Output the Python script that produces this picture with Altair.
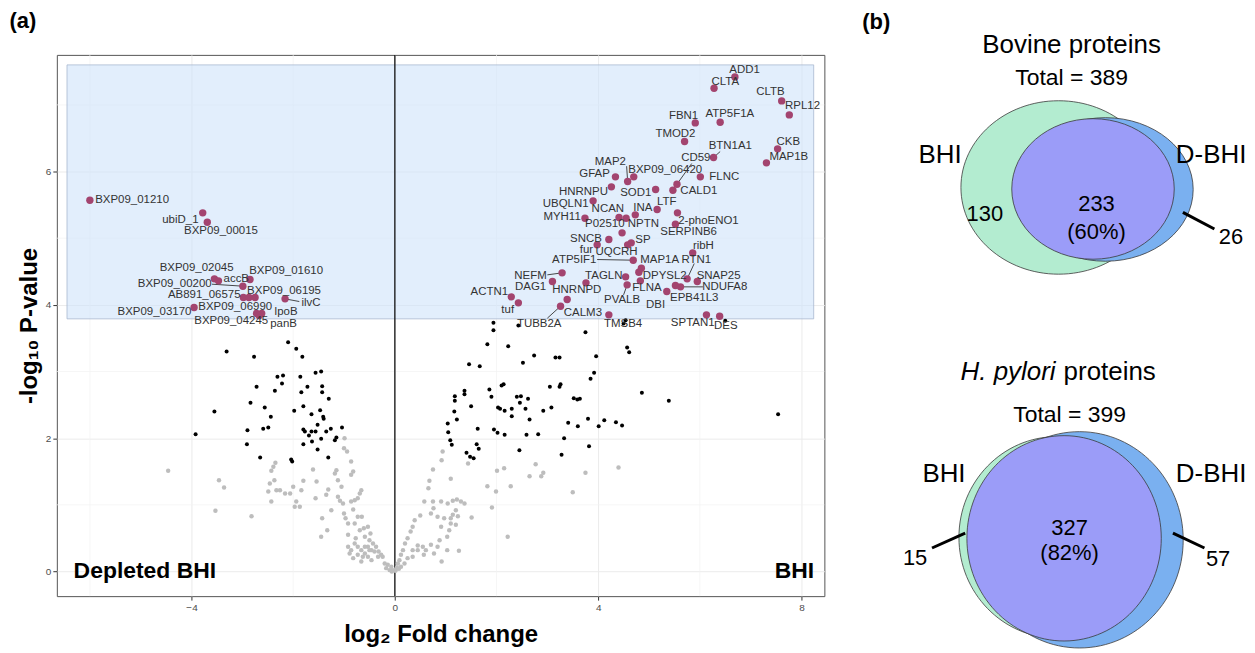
import altair as alt
import pandas as pd

FONT = "Liberation Sans"

# ---------------- panel (a): volcano plot data ----------------
grey_x = [-4.46, -3.46, -3.36, -3.53, -2.82, -2.35, -2.39, -2.43, -2.46, -2.37, -2.49, -2.33, -2.26, -2.43,
          -2.16, -2.06, -2.00, -1.94, -1.97, -1.87, -1.84, -1.80, -1.61, -1.54, -1.56, -1.43, -1.45, -1.33,
          -1.35, -1.25, -1.31, -1.15, -1.18, -1.12, -1.05, -1.12, -1.08, -1.02, -1.00, -0.97, -0.92, -0.86,
          -0.82, -0.86, -1.00, -0.94, -0.99, -0.86, -0.79, -0.73, -0.69, -0.66, -0.82, -0.73, -0.65, -0.79,
          -0.69, -0.61, -0.59, -0.53, -0.48, -0.50, -0.43, -0.37, -0.32, -0.27, -0.24, -0.20, -0.14, -0.07,
          -0.04, -0.92, -0.86, -0.79, -0.73, -0.66, -0.59, -0.53, -0.46, -0.40, -0.89, -0.82, -0.73, -0.63,
          -0.53, -0.66, -0.46, -0.33, -0.92, -0.77, -0.59, -0.50, -0.17, -0.10, -0.06,
          0.94, 0.92, 0.75, 0.68, 0.66, 0.58, 0.50, 0.39, 0.35, 0.31, 0.25, 0.20, 0.16, 0.12, 0.09, 0.06,
          0.75, 0.76, 0.71, 0.84, 0.91, 1.04, 1.14, 1.22, 1.30, 1.37, 1.20, 1.10, 0.97, 0.91, 1.07, 1.03,
          0.88, 0.84, 0.71, 0.61, 0.55, 0.45, 0.35, 0.25, 0.19, 0.12, 1.10, 1.14, 1.24, 1.20, 1.51, 1.91,
          1.99, 1.82, 2.01, 2.15, 2.28, 2.22, 1.44, 1.10, 2.65, 2.77, 2.88, 2.92, 3.50, 3.75, 4.40, 1.26,
          0.92, 1.03, 0.77, 0.57, 0.45, 0.35, 0.02, 0.04, 0.01, 0.08]
grey_y = [1.51, 1.37, 1.26, 0.91, 0.83, 1.63, 1.57, 1.51, 1.32, 1.37, 1.20, 1.22, 1.22, 1.05,
          1.17, 1.17, 1.27, 1.05, 0.97, 0.97, 1.22, 1.36, 1.53, 1.35, 1.10, 0.80, 0.52, 0.62,
          1.15, 0.92, 1.23, 1.52, 1.47, 1.37, 1.27, 1.12, 1.06, 1.02, 0.87, 0.80, 0.72, 1.65,
          1.50, 1.45, 1.85, 1.80, 2.00, 1.05, 1.07, 1.10, 1.17, 1.22, 0.93, 0.82, 0.82, 0.72,
          0.62, 0.65, 0.52, 0.67, 0.57, 0.47, 0.42, 0.37, 0.30, 0.25, 0.22, 0.12, 0.10, 0.07,
          0.02, 0.37, 0.32, 0.42, 0.37, 0.32, 0.27, 0.37, 0.32, 0.30, 0.27, 0.20, 0.25, 0.22,
          0.22, 0.15, 0.17, 0.22, 0.55, 0.50, 0.37, 0.32, 0.05, 0.02, 0.00,
          1.80, 1.67, 1.53, 1.36, 1.25, 1.05, 0.84, 0.77, 0.67, 0.60, 0.50, 0.42, 0.32, 0.25, 0.17, 0.12,
          1.05, 0.95, 0.87, 0.82, 1.05, 1.02, 1.06, 1.08, 1.05, 1.02, 0.92, 0.80, 0.80, 0.67, 0.62, 0.52,
          0.47, 0.37, 0.40, 0.32, 0.37, 0.32, 0.22, 0.20, 0.12, 0.07, 0.72, 0.85, 0.83, 0.70, 0.81, 0.96,
          1.20, 1.28, 1.51, 1.55, 1.28, 0.52, 1.62, 1.39, 1.43, 1.61, 1.43, 1.48, 1.19, 1.48, 1.56, 0.31,
          0.15, 0.32, 0.27, 0.25, 0.39, 0.32, 0.03, 0.06, 0.01, 0.04]

black_x = [-2.10, -1.94, -1.82, -3.31, -2.77, -1.56, -1.45, -2.31, -2.20, -1.86, -2.72, -2.36, -2.22, -1.84,
           -1.72, -1.43, -1.43, -1.30, -3.55, -2.84, -2.56, -2.44, -1.98, -1.80, -1.64, -1.47, -1.41, -1.40,
           -1.04, -1.26, -3.92, -2.90, -2.59, -2.49, -1.80, -1.77, -1.69, -1.64, -1.56, -1.52, -1.45, -1.35,
           -1.18, -1.15, -1.63, -1.80, -2.91, -1.52, -1.31, -2.65, -2.04, -2.02,
           1.94, 1.94, 1.82, 2.23, 1.46, 1.67, 2.52, 2.74, 3.16, 3.24, 3.75, 3.96, 3.92, 3.85, 4.57, 4.61,
           4.86, 5.39, 7.54, 1.18, 1.18, 1.37, 1.37, 1.17, 1.22, 1.04, 1.05, 1.09, 1.12, 1.41, 1.48, 1.55,
           1.61, 1.65, 1.63, 1.50, 1.86, 1.90, 2.10, 2.14, 2.03, 2.07, 2.16, 2.30, 2.30, 2.40, 2.48, 2.46,
           2.62, 2.57, 2.65, 1.95, 2.02, 2.16, 2.59, 2.82, 2.45, 2.92, 3.08, 3.05, 3.24, 3.26, 3.41, 3.33,
           3.28, 3.52, 3.59, 3.64, 3.60, 3.80, 3.82, 4.01, 4.12, 4.35, 4.47, 4.54, 4.50, 2.43, 6.50]
black_y = [3.44, 3.34, 3.22, 3.30, 3.22, 2.98, 3.00, 2.92, 2.94, 2.92, 2.77, 2.71, 2.82, 2.69,
           2.77, 2.78, 2.69, 2.59, 2.40, 2.53, 2.46, 2.32, 2.41, 2.48, 2.36, 2.42, 2.32, 2.29,
           2.16, 2.14, 2.06, 2.12, 2.14, 2.16, 2.13, 2.10, 2.04, 2.10, 2.10, 2.20, 1.99, 2.10,
           1.97, 2.01, 1.95, 1.91, 1.91, 1.83, 1.71, 1.71, 1.68, 1.65,
           3.73, 3.62, 3.41, 3.38, 3.11, 3.08, 3.13, 3.24, 3.21, 3.21, 3.59, 3.23, 2.98, 2.89, 3.36, 3.29,
           2.68, 2.56, 2.36, 2.63, 2.56, 2.71, 2.66, 2.40, 2.28, 2.22, 2.09, 1.97, 1.90, 1.78, 1.72, 1.70,
           1.91, 1.84, 2.14, 2.48, 2.73, 2.62, 2.79, 2.81, 2.46, 2.44, 2.41, 2.44, 2.33, 2.62, 2.63, 2.53,
           2.59, 2.44, 2.28, 2.13, 2.08, 2.05, 2.05, 2.06, 1.82, 2.41, 2.46, 2.77, 2.77, 2.81, 2.23, 2.00,
           1.75, 2.60, 2.58, 2.59, 2.18, 2.29, 1.88, 2.18, 2.27, 2.24, 2.19, 3.77, 3.72, 3.69, 3.76]

sig_name = ["BXP09_01210", "ubiD_1", "BXP09_00015", "BXP09_02045", "accB", "BXP09_00200", "BXP09_01610",
            "AB891_06575", "BXP09_06195", "BXP09_06990", "ilvC", "BXP09_03170", "lpoB", "BXP09_04245", "panB",
            "ADD1", "CLTA", "CLTB", "RPL12", "FBN1", "ATP5F1A", "TMOD2", "BTN1A1", "CKB", "MAP1B", "CD59",
            "BXP09_06420", "MAP2", "GFAP", "FLNC", "HNRNPU", "SOD1", "CALD1", "LTF", "INA", "NCAN", "NPTN",
            "UBQLN1", "MYH11", "2-phoENO1", "SERPINB6", "P02510", "SNCB", "fur", "SP", "UQCRH", "ATP5IF1",
            "MAP1A", "RTN1", "ribH", "DPYSL2", "SNAP25", "NDUFA8", "TAGLN", "FLNA", "EPB41L3", "DBI", "PVALB",
            "NEFM", "DAG1", "HNRNPD", "ACTN1", "tuf", "CALM3", "TUBB2A", "TMSB4", "SPTAN1", "DES"]
sig_x = [-6.00, -3.78, -3.69, -3.55, -3.47, -2.99, -2.85, -2.98, -2.75, -2.87, -2.16, -3.95, -2.62, -2.72, -2.67,
         6.69, 6.28, 7.61, 7.76, 5.91, 6.40, 5.70, 6.27, 7.53, 7.31, 5.55,
         4.70, 4.58, 4.34, 6.01, 4.26, 5.13, 5.47, 5.16, 4.73, 4.41, 4.55,
         3.90, 3.74, 5.56, 5.52, 4.47, 4.21, 3.98, 4.58, 4.65, 4.69,
         4.85, 5.75, 5.86, 4.80, 5.95, 5.62, 4.54, 4.83, 5.52, 5.35, 4.57,
         3.29, 3.10, 3.76, 2.29, 2.43, 3.39, 3.26, 4.21, 6.13, 6.39]
sig_y = [5.57, 5.38, 5.24, 4.39, 4.36, 4.28, 4.38, 4.11, 4.11, 4.11, 4.09, 3.96, 3.87, 3.87, 3.84,
         7.42, 7.25, 7.06, 6.85, 6.73, 6.74, 6.45, 6.21, 6.34, 6.13, 5.81,
         5.92, 5.85, 5.92, 5.92, 5.77, 5.73, 5.72, 5.43, 5.35, 5.31, 5.30,
         5.56, 5.30, 5.38, 5.21, 5.08, 4.98, 4.90, 4.90, 4.93, 4.67,
         4.55, 4.39, 4.78, 4.49, 4.35, 4.27, 4.42, 4.36, 4.29, 4.20, 4.30,
         4.48, 4.35, 4.33, 4.12, 4.03, 4.08, 3.98, 3.85, 3.85, 3.83]
lab_x = [-5.17, -4.22, -3.42, -3.90, -3.12, -4.33, -2.14, -3.75, -2.18, -3.14, -1.65, -4.73, -2.14, -3.22, -2.19,
         6.88, 6.50, 7.39, 8.02, 5.68, 6.59, 5.52, 6.60, 7.74, 7.75, 5.92,
         5.32, 4.24, 3.93, 6.48, 3.71, 4.74, 5.98, 5.35, 4.88, 4.19, 4.89,
         3.36, 3.29, 6.17, 5.78, 4.13, 3.76, 3.77, 4.88, 4.36, 3.53,
         5.21, 5.93, 6.07, 5.31, 6.37, 6.49, 4.11, 4.96, 5.89, 5.13, 4.47,
         2.67, 2.67, 3.58, 1.86, 2.22, 3.70, 2.84, 4.49, 5.86, 6.51]
lab_y = [5.57, 5.27, 5.11, 4.56, 4.39, 4.31, 4.51, 4.15, 4.21, 3.97, 4.03, 3.89, 3.89, 3.76, 3.71,
         7.53, 7.35, 7.19, 6.98, 6.84, 6.86, 6.57, 6.38, 6.44, 6.22, 6.20,
         6.03, 6.15, 5.97, 5.92, 5.70, 5.68, 5.71, 5.55, 5.45, 5.44, 5.21,
         5.51, 5.32, 5.26, 5.10, 5.21, 4.99, 4.83, 4.98, 4.79, 4.68,
         4.68, 4.68, 4.88, 4.44, 4.44, 4.27, 4.44, 4.25, 4.11, 4.00, 4.08,
         4.44, 4.27, 4.22, 4.19, 3.92, 3.88, 3.72, 3.72, 3.73, 3.69]

conn_name = ["BXP09_00200", "ilvC", "BTN1A1", "CD59", "MAP2", "ATP5IF1", "RTN1", "NDUFA8", "PVALB", "NEFM", "TUBB2A"]
conn_x = [-3.60, -1.88, 6.40, 5.84, 4.56, 3.98, 5.89, 6.06, 4.50, 3.00, 3.00]
conn_y = [4.31, 4.05, 6.30, 6.12, 6.08, 4.68, 4.62, 4.27, 4.15, 4.45, 3.80]

box_x = [-6.45, 8.24]
box_y = [3.79, 7.60]
major_x = [-4, 0, 4, 8]
major_y = [0, 2, 4, 6]
minor_x = [-6, -2, 2, 6]
minor_y = [1, 3, 5, 7]
zero_x = [0]
side_text = ["Depleted BHI", "BHI"]
side_x = [-6.32, 8.25]
side_y = [0.0, 0.0]

# ---------------- panel (b): Venn diagrams data ----------------
ell_name = ["Bovine BHI", "Bovine D-BHI", "Bovine both", "H. pylori BHI", "H. pylori D-BHI", "H. pylori both"]
ell_cx = [197, 244, 231.5, 195, 218, 202.5]
ell_cy = [180, 182, 181.5, 531, 533.5, 532]
ell_rx = [98, 88, 81.5, 98, 104, 97.5]
ell_ry = [87, 72, 70.5, 101, 108.5, 103]

vt_text = ["(b)", "Bovine proteins", "Total = 389", "BHI", "D-BHI", "130", "233", "(60%)", "26",
           "Total = 399", "BHI", "D-BHI", "327", "(82%)", "15", "57"]
vt_kind = ["panel", "head", "total", "set", "set", "count", "count", "count", "count",
           "total", "set", "set", "count", "count", "count", "count"]
vt_x = [0, 210, 210, 78, 350, 123, 235, 235, 370, 208, 82, 350, 208, 208, 53, 357]
vt_y = [14, 37, 70, 147, 147, 207, 197, 225, 230, 408, 467, 467, 522, 547, 552, 553]
hp_text = ["H. pylori", "proteins"]
hp_x = [194, 202]
hp_y = [365, 365]
vl_x = [321.7, 70.0, 311.7]
vl_y = [205.0, 541.7, 526.7]
vl_x2 = [353.3, 103.3, 343.3]
vl_y2 = [221.7, 526.7, 541.7]

# ---------------- build panel (a) ----------------
xs = alt.Scale(domain=[-6.65, 8.45], nice=False, zero=False)
ys = alt.Scale(domain=[-0.37, 7.75], nice=False, zero=False)
xaxis = alt.Axis(values=major_x, title="log\u2082 Fold change", grid=True, gridColor="#ebebeb",
                 gridWidth=1, domain=False, tickColor="#333333", tickSize=4, labelFontSize=10,
                 labelColor="#4d4d4d", labelFont=FONT, titleFont=FONT, titleFontSize=24,
                 titleFontWeight="bold", titleColor="black", titlePadding=11, labelPadding=2)
yaxis = alt.Axis(values=major_y, title="-log\u2081\u2080 P-value", grid=True, gridColor="#ebebeb",
                 gridWidth=1, domain=False, tickColor="#333333", tickSize=4, labelFontSize=10,
                 labelColor="#4d4d4d", labelFont=FONT, titleFont=FONT, titleFontSize=24,
                 titleFontWeight="bold", titleColor="black", titlePadding=4, labelPadding=2)


def X(f):
    return alt.X(f"{f}:Q", scale=xs, axis=xaxis)


def Y(f):
    return alt.Y(f"{f}:Q", scale=ys, axis=yaxis)


grey_df = pd.DataFrame({"x": grey_x, "y": grey_y})
black_df = pd.DataFrame({"x": black_x, "y": black_y})
sig_df = pd.DataFrame({"name": sig_name, "x": sig_x, "y": sig_y, "lx": lab_x, "ly": lab_y})
pt = {n: (x, y) for n, x, y in zip(sig_name, sig_x, sig_y)}
conn_df = pd.DataFrame({"x": conn_x, "y": conn_y,
                        "x2": [pt[n][0] for n in conn_name], "y2": [pt[n][1] for n in conn_name]})
box_df = pd.DataFrame({"x0": [box_x[0]], "x1": [box_x[1]], "y0": [box_y[0]], "y1": [box_y[1]]})
side_df = pd.DataFrame({"t": side_text, "x": side_x, "y": side_y})

minor_v = alt.Chart(pd.DataFrame({"x": minor_x})).mark_rule(color="#f2f2f2", strokeWidth=0.7).encode(x=X("x"))
minor_h = alt.Chart(pd.DataFrame({"y": minor_y})).mark_rule(color="#f2f2f2", strokeWidth=0.7).encode(y=Y("y"))
box = alt.Chart(box_df).mark_rect(fill="#cfe2fa", fillOpacity=0.6, stroke="#a7b8cf", strokeWidth=0.8).encode(
    x=X("x0"), x2="x1", y=Y("y0"), y2="y1")
zero = alt.Chart(pd.DataFrame({"x": zero_x})).mark_rule(color="#111111", strokeWidth=1.3).encode(x=X("x"))
grey = alt.Chart(grey_df).mark_circle(color="#bdbdbd", size=20, opacity=1).encode(x=X("x"), y=Y("y"))
black = alt.Chart(black_df).mark_circle(color="black", size=16, opacity=1).encode(x=X("x"), y=Y("y"))
conn = alt.Chart(conn_df).mark_rule(color="#333333", strokeWidth=0.9).encode(x=X("x"), y=Y("y"), x2="x2", y2="y2")
sig = alt.Chart(sig_df).mark_circle(color="#a3446f", size=55, opacity=1).encode(x=X("x"), y=Y("y"))
labels = alt.Chart(sig_df).mark_text(font=FONT, fontSize=11.5, color="#333333", align="center",
                                     baseline="middle").encode(x=X("lx"), y=Y("ly"), text="name:N")
side_l = alt.Chart(side_df.iloc[[0]]).mark_text(font=FONT, fontSize=23, fontWeight="bold", color="black",
                                               align="left", baseline="middle").encode(x=X("x"), y=Y("y"), text="t:N")
side_r = alt.Chart(side_df.iloc[[1]]).mark_text(font=FONT, fontSize=23, fontWeight="bold", color="black",
                                               align="right", baseline="middle").encode(x=X("x"), y=Y("y"), text="t:N")

volcano = alt.layer(minor_v, minor_h, box, zero, grey, black, conn, sig, labels, side_l, side_r).properties(
    width=770, height=543,
    title=alt.TitleParams("(a)", anchor="start", fontSize=22, fontWeight="bold", font=FONT, color="black",
                          offset=21, dx=-8),
    view=alt.ViewBackground(stroke="#555555", strokeWidth=1),
)

# ---------------- build panel (b) ----------------
VX = alt.X("vx:Q", scale=alt.Scale(domain=[0, 380], nice=False, zero=False), axis=None)
VY = alt.Y("vy:Q", scale=alt.Scale(domain=[47, 635], nice=False, zero=False, reverse=True), axis=None)
ell_fill = ["#b3ecd0", "#7ab0f0", "#9b9cf8", "#b3ecd0", "#7ab0f0", "#9b9cf8"]
K = 0.5523


def ellipse(i):
    r = ell_ry[i] / ell_rx[i]
    a, b = K * r, K
    path = (f"M-1,0C-1,{-a:.4f},{-b:.4f},{-r:.4f},0,{-r:.4f}"
            f"C{b:.4f},{-r:.4f},1,{-a:.4f},1,0"
            f"C1,{a:.4f},{b:.4f},{r:.4f},0,{r:.4f}"
            f"C{-b:.4f},{r:.4f},-1,{a:.4f},-1,0Z")
    d = pd.DataFrame({"set": [ell_name[i]], "vx": [ell_cx[i]], "vy": [ell_cy[i]]})
    return alt.Chart(d).mark_point(shape=path, size=(2 * ell_rx[i]) ** 2, filled=True, fill=ell_fill[i],
                                   stroke="#3a3a3a", strokeWidth=0.8, opacity=1, fillOpacity=1).encode(x=VX, y=VY)


vt_df = pd.DataFrame({"t": vt_text, "kind": vt_kind, "vx": vt_x, "vy": vt_y})
hp_df = pd.DataFrame({"t": hp_text, "vx": hp_x, "vy": hp_y})
vl_df = pd.DataFrame({"vx": vl_x, "vy": vl_y, "vx2": vl_x2, "vy2": vl_y2})

text_styles = {"panel": dict(fontSize=22, fontWeight="bold", align="left"),
               "head": dict(fontSize=26, align="center"),
               "total": dict(fontSize=23, align="center"),
               "set": dict(fontSize=26, align="center"),
               "count": dict(fontSize=22, align="center")}
text_layers = []
for k, st in text_styles.items():
    text_layers.append(alt.Chart(vt_df[vt_df.kind == k]).mark_text(font=FONT, color="black", baseline="middle", **st)
                       .encode(x=VX, y=VY, text="t:N"))
hp_i = alt.Chart(hp_df.iloc[[0]]).mark_text(font=FONT, fontSize=26, fontStyle="italic", color="black",
                                           align="right", baseline="middle").encode(x=VX, y=VY, text="t:N")
hp_p = alt.Chart(hp_df.iloc[[1]]).mark_text(font=FONT, fontSize=26, color="black",
                                           align="left", baseline="middle").encode(x=VX, y=VY, text="t:N")
vlines = alt.Chart(vl_df).mark_rule(color="black", strokeWidth=3).encode(x=VX, y=VY, x2="vx2", y2="vy2")

venn = alt.layer(*[ellipse(i) for i in range(6)], vlines, *text_layers, hp_i, hp_p).properties(
    width=380, height=588,
    view=alt.ViewBackground(strokeWidth=0),
)

chart = alt.hconcat(volcano, venn, spacing=37).properties(
    padding={"left": 0, "top": 0, "right": 0, "bottom": 0}
).configure_view(strokeWidth=0).configure(font=FONT)

chart.save("out.html", embed_options={"renderer": "svg", "actions": False})
